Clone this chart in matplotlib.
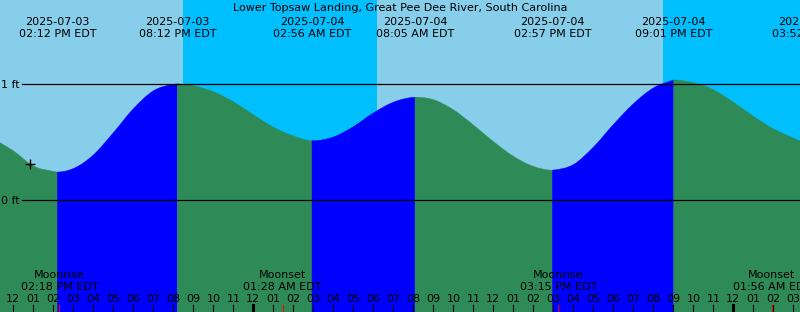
import numpy as np
import pandas as pd
import matplotlib
matplotlib.use("Agg")
import matplotlib.pyplot as plt
from matplotlib.path import Path
from matplotlib.patches import PathPatch
from matplotlib.transforms import blended_transform_factory

station = "Lower Topsaw Landing, Great Pee Dee River, South Carolina"

# tide extremes (local time, EDT)
tide_times = ["2025-07-03 14:12", "2025-07-03 20:12", "2025-07-04 02:56",
              "2025-07-04 08:05", "2025-07-04 14:57", "2025-07-04 21:01",
              "2025-07-05 03:52"]
tide_kinds = ["low", "high", "low", "high", "low", "high", "low"]
tide_heights = [0.241, 1.001, 0.511, 0.886, 0.257, 1.035, 0.50]

# hourly water level (ft), 2025-07-03 12:00 .. 2025-07-05 03:00
hourly_start = "2025-07-03 12:00"
hourly_heights = [0.424, 0.293, 0.247, 0.271, 0.388, 0.580, 0.786, 0.941, 0.997,
                  0.984, 0.934, 0.847, 0.735, 0.628, 0.552, 0.511, 0.543, 0.632,
                  0.750, 0.843, 0.885, 0.865, 0.778, 0.647, 0.504, 0.377, 0.290,
                  0.258, 0.305, 0.455, 0.650, 0.829, 0.966, 1.034, 1.011, 0.951,
                  0.843, 0.722, 0.614, 0.534]
edge_times = ["2025-07-03 11:20", "2025-07-05 03:20"]
edge_heights = [0.494, 0.509]

# sun and moon
night_start = ["2025-07-03 20:29", "2025-07-04 20:29"]
night_end = ["2025-07-04 06:10", "2025-07-05 03:20"]
moon_times = ["2025-07-03 14:18", "2025-07-04 01:28", "2025-07-04 15:15", "2025-07-05 01:56"]
moon_events = ["Moonrise", "Moonset", "Moonrise", "Moonset"]

now_time = "2025-07-03 12:50"
now_height = 0.308

t_ref = pd.Timestamp("2025-07-03 00:00")


def hrs(s):
    return (pd.Timestamp(s) - t_ref).total_seconds() / 3600.0


def fig_y(px):
    return 1 - px / 312.0


t_lo, t_hi = hrs(edge_times[0]), hrs(edge_times[1])
y_lo, y_hi = -112 / 116.0, 200 / 116.0

sky_day = "#87CEEB"
sky_night = "#00BFFF"
rising = "#0000FF"
falling = "#2E8B57"
fs = 8

fig = plt.figure(figsize=(8, 3.12), dpi=100)
ax = fig.add_axes([0, 0, 1, 1])
ax.set_xlim(t_lo, t_hi)
ax.set_ylim(y_lo, y_hi)
ax.axis("off")
ax.add_patch(plt.Rectangle((t_lo, y_lo), t_hi - t_lo, y_hi - y_lo, color=sky_day, zorder=0))
for a, b in zip(night_start, night_end):
    ax.axvspan(hrs(a), hrs(b), color=sky_night, lw=0, zorder=0.5)

# water level series
ext_t = [hrs(s) for s in tide_times]
hourly_t = [hrs(hourly_start) + i for i in range(len(hourly_heights))]
pts = sorted(zip(hourly_t + [hrs(s) for s in edge_times] + ext_t,
                 hourly_heights + edge_heights + tide_heights))
pts = [p for p in pts if t_lo <= p[0] <= t_hi]
tt = np.array([p[0] for p in pts])
hh = np.array([p[1] for p in pts])

# slopes for a smooth (Hermite) line through the readings; flat at highs/lows
mm = np.zeros(len(tt))
for i in range(len(tt)):
    if tt[i] in ext_t:
        continue
    if i == 0:
        mm[i] = (hh[1] - hh[0]) / (tt[1] - tt[0])
    elif i == len(tt) - 1:
        mm[i] = (hh[i] - hh[i - 1]) / (tt[i] - tt[i - 1])
    else:
        d0, d1 = tt[i] - tt[i - 1], tt[i + 1] - tt[i]
        s0, s1 = (hh[i] - hh[i - 1]) / d0, (hh[i + 1] - hh[i]) / d1
        mm[i] = (s0 * d1 + s1 * d0) / (d0 + d1)

bounds = [t_lo] + [t for t in ext_t if t_lo < t < t_hi] + [t_hi]
for a, b in zip(bounds[:-1], bounds[1:]):
    nxt = [k for t, k in zip(ext_t, tide_kinds) if t > a][0]
    c = rising if nxt == "high" else falling
    idx = np.where((tt >= a) & (tt <= b))[0]
    verts = [(tt[idx[0]], y_lo), (tt[idx[0]], hh[idx[0]])]
    codes = [Path.MOVETO, Path.LINETO]
    for i, j in zip(idx[:-1], idx[1:]):
        dt = tt[j] - tt[i]
        verts += [(tt[i] + dt / 3, hh[i] + mm[i] * dt / 3),
                  (tt[j] - dt / 3, hh[j] - mm[j] * dt / 3),
                  (tt[j], hh[j])]
        codes += [Path.CURVE4] * 3
    verts += [(tt[idx[-1]], y_lo), (tt[idx[0]], y_lo)]
    codes += [Path.LINETO, Path.CLOSEPOLY]
    ax.add_patch(PathPatch(Path(verts, codes), fc=c, ec=c, lw=0.3, zorder=1))

ax.axhline(1, xmin=22 / 800, color="black", lw=0.9, zorder=2)
ax.axhline(0, xmin=22 / 800, color="black", lw=0.9, zorder=2)
ax.text(t_lo + 19.5 / 20, 1, "1 ft", ha="right", va="center_baseline", fontsize=fs)
ax.text(t_lo + 19.5 / 20, 0, "0 ft", ha="right", va="center_baseline", fontsize=fs)

ax.plot([hrs(now_time)], [now_height], marker="+", color="black", ms=6.5, mew=1, zorder=3)

tr = blended_transform_factory(ax.transData, fig.transFigure)

# title and tide event labels
fig.text(0.5, fig_y(11), station, ha="center", va="baseline", fontsize=fs)
for s in tide_times:
    ts = pd.Timestamp(s)
    x = hrs(s)
    ax.text(x, fig_y(25), ts.strftime("%Y-%m-%d"), transform=tr,
            ha="center", va="baseline", fontsize=fs, clip_on=False)
    ax.text(x, fig_y(37), ts.strftime("%I:%M %p") + " EDT", transform=tr,
            ha="center", va="baseline", fontsize=fs, clip_on=False)

# moon labels
for s, ev in zip(moon_times, moon_events):
    ts = pd.Timestamp(s)
    x = hrs(s)
    ax.text(x, fig_y(278.5), ev, transform=tr, ha="center", va="baseline", fontsize=fs)
    ax.text(x, fig_y(290), ts.strftime("%I:%M %p") + " EDT", transform=tr,
            ha="center", va="baseline", fontsize=fs)
    ax.plot([x, x], [0, 7 / 312], color="red", lw=0.8, transform=tr, zorder=4)

# hour ticks along the bottom
for h in range(int(np.ceil(t_lo)), int(t_hi) + 1):
    lbl = "%02d" % (h % 12 or 12)
    ax.text(h, fig_y(302), lbl, transform=tr, ha="center", va="baseline", fontsize=fs)
    w = 2.2 if h % 24 == 0 else 0.8
    ax.plot([h, h], [0, 7 / 312], color="black", lw=w, transform=tr, zorder=3)

fig.savefig("out.png", dpi=100)
